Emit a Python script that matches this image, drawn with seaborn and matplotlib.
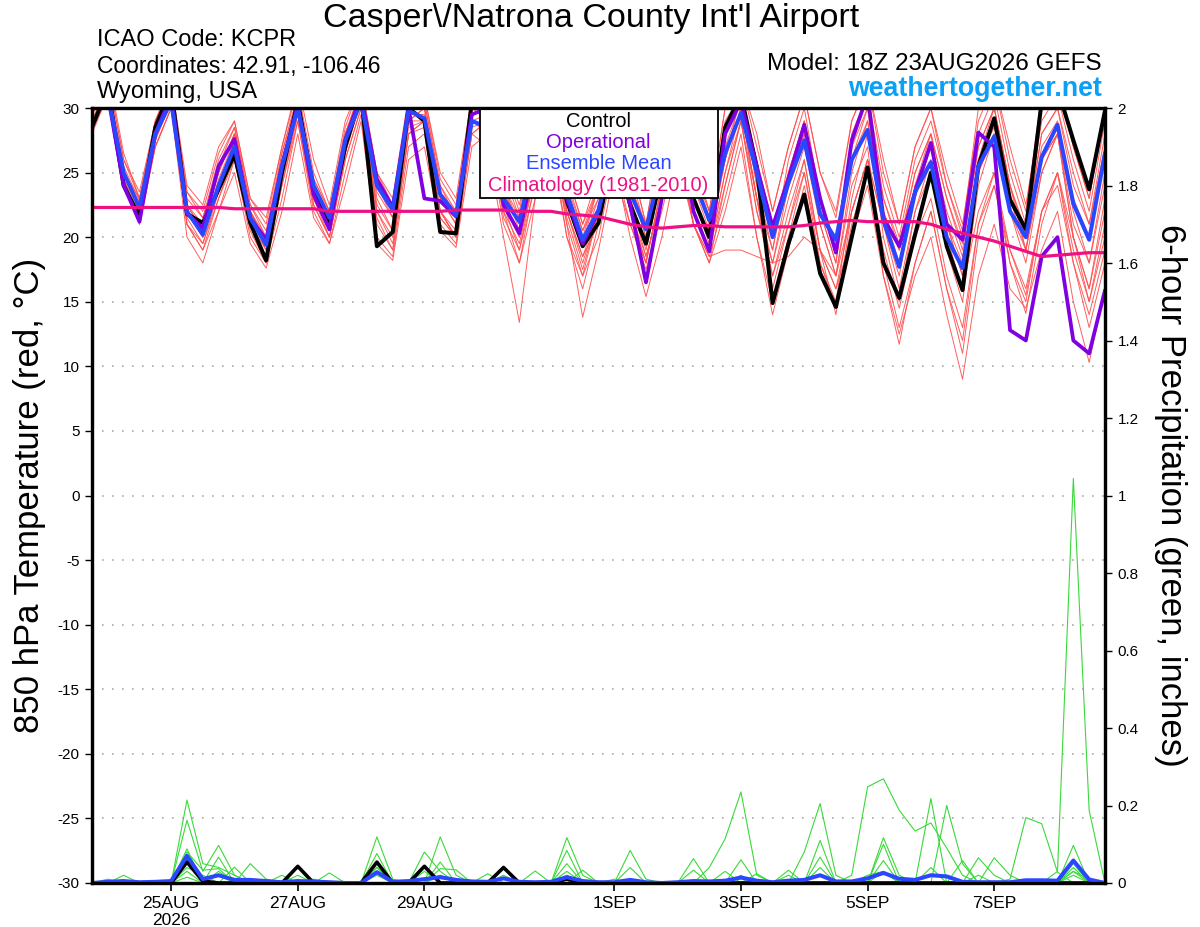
import numpy as np
import pandas as pd
import matplotlib
matplotlib.use('Agg')
import matplotlib.pyplot as plt
import seaborn as sns
from matplotlib.patches import Rectangle

# GEFS run 18Z 23AUG2026, 6-hourly out to 384h
times = pd.date_range('2026-08-23 18:00', periods=65, freq='6h')

tick_dates = pd.to_datetime(['2026-08-25', '2026-08-27', '2026-08-29', '2026-09-01',
                             '2026-09-03', '2026-09-05', '2026-09-07'])
tick_labels = ['25AUG\n2026', '27AUG', '29AUG', '1SEP', '3SEP', '5SEP', '7SEP']

# 850 hPa temperature (C)
control_t = [28.5, 31.5, 24.0, 21.6, 28.5, 31.5, 21.8, 21.1, 23.7, 26.4, 21.1, 18.2, 25.0, 30.5, 23.6, 21.1,
             27.0, 31.0, 19.3, 20.4, 30.0, 29.0, 20.4, 20.3, 30.5, 31.5, 25.0, 24.5, 28.0, 30.5, 22.8, 19.3,
             21.1, 27.0, 22.5, 19.5, 25.0, 29.0, 23.0, 20.0, 28.5, 31.0, 25.4, 14.9, 19.5, 23.3, 17.2, 14.6,
             20.0, 25.4, 18.0, 15.3, 20.2, 25.0, 19.3, 15.9, 25.5, 29.2, 22.9, 20.6, 30.5, 31.5, 27.5, 23.7, 29.8]
mean_t = [30.0, 31.0, 25.0, 22.3, 28.0, 30.5, 22.0, 20.2, 24.0, 27.0, 21.5, 19.4, 25.5, 30.0, 24.0, 21.5,
          27.5, 30.5, 24.0, 22.1, 29.8, 29.2, 23.3, 21.7, 29.0, 28.5, 23.0, 21.2, 26.5, 29.0, 23.4, 19.8,
          22.1, 27.0, 23.5, 20.6, 25.5, 29.0, 24.5, 21.3, 26.5, 29.6, 25.0, 20.0, 24.2, 27.5, 21.8, 19.8,
          26.0, 28.3, 21.3, 17.7, 23.5, 25.8, 20.0, 17.6, 25.5, 27.8, 22.0, 20.0, 26.2, 28.7, 22.6, 19.8, 26.5]
oper_t = [30.0, 31.0, 24.0, 21.2, 28.0, 31.0, 21.8, 20.7, 25.5, 27.6, 21.5, 19.8, 25.5, 30.2, 23.3, 20.6,
          27.5, 31.0, 24.5, 22.3, 30.0, 23.0, 22.8, 21.6, 29.5, 30.0, 22.5, 20.3, 26.0, 29.0, 23.0, 19.5,
          22.0, 27.5, 22.5, 16.5, 23.0, 29.5, 22.0, 18.9, 28.0, 30.5, 25.4, 20.8, 24.5, 28.7, 23.0, 18.8,
          27.5, 31.0, 21.5, 19.3, 23.5, 27.3, 21.0, 19.8, 28.1, 27.0, 12.8, 12.0, 18.5, 20.0, 12.0, 11.0, 15.9]
clim_t = [22.3, 22.3, 22.3, 22.3, 22.3, 22.3, 22.3, 22.3, 22.3, 22.2, 22.2, 22.2, 22.2, 22.2, 22.2, 22.0,
          22.0, 22.0, 22.0, 22.0, 22.0, 22.0, 22.0, 22.1, 22.1, 22.1, 22.1, 22.0, 22.0, 22.0, 21.8, 21.7,
          21.6, 21.3, 21.0, 20.8, 20.7, 20.8, 20.9, 20.9, 20.8, 20.8, 20.8, 20.8, 20.8, 20.9, 21.1, 21.2,
          21.3, 21.2, 21.2, 21.2, 21.2, 21.0, 20.6, 20.3, 20.0, 19.7, 19.3, 18.9, 18.5, 18.6, 18.7, 18.8, 18.8]

# ensemble members (red)
t_m01 = [29.5, 32, 25.5, 22.8, 28.5, 31, 23, 21.5, 25, 28, 22, 20, 26, 31, 24.5, 22,
         28, 31.5, 24, 22.5, 30, 30, 23.5, 22, 30, 29, 24, 21.5, 27, 30, 24, 20.5,
         23, 28, 24, 21, 26, 30, 25, 22, 27, 30.5, 26, 21, 25, 28, 22, 20,
         26, 29, 22, 18, 24, 26, 21, 18, 26, 28.5, 23, 20, 27, 29, 23, 20, 27]
t_m02 = [28, 31, 24, 21, 27, 30, 21, 19, 23, 26, 20.5, 18, 24, 29.5, 22.5, 20,
         26, 30, 21, 19, 28, 29, 21.5, 20, 29, 28, 22, 19.5, 25, 29, 22, 18.5,
         21, 27, 22, 18.5, 23, 28, 22, 19, 24, 29, 23, 17, 21, 25, 19, 16,
         22, 26, 19, 14.5, 20, 23, 17, 13, 21, 25, 19, 15.5, 22, 24, 18, 14, 19]
t_m03 = [30, 32.5, 26, 23.5, 29, 32, 24, 22.5, 27, 29, 23, 21.5, 27, 32, 26, 22.5,
         29, 32, 25, 23, 31, 31, 25, 23, 31, 32, 26, 22.5, 28, 31, 25, 21,
         24, 30, 26, 21, 28, 31, 26, 22, 30, 32, 27, 22, 27, 31, 25, 22,
         29, 32, 25, 21, 27, 30, 25, 21, 29, 32, 27, 22.5, 30, 32, 27, 23, 30]
t_m04 = [29, 31.5, 25, 22, 28, 31, 22, 20, 24, 27.5, 21, 19, 25, 30, 23, 20.5,
         27, 31, 22, 20, 29, 30, 22, 20.5, 28, 27, 20, 13.4, 23, 28, 21, 17,
         22, 28, 23, 19, 25, 29, 23, 20, 26, 30, 23, 18, 24, 28, 21, 17,
         25, 29, 22, 19, 23, 27, 21, 17, 25, 28, 22, 19, 26, 28, 21, 18, 25]
t_m05 = [29, 32, 24.5, 21.5, 27.5, 30.5, 22, 20.5, 24, 27, 22, 19.5, 25.5, 30.5, 23.5, 21,
         27.5, 31, 23.5, 21.5, 29.5, 29.5, 23, 21, 29.5, 30, 23, 20, 25, 29, 21, 13.8,
         19, 25, 21, 18, 24, 29, 24, 20.5, 26, 31, 24, 19, 26, 30, 23, 19,
         27, 31, 23, 19, 25, 28, 23, 19.5, 27, 30, 24, 20, 28, 30, 25, 21, 28]
t_m06 = [30, 32, 25, 22.5, 28, 31.5, 21, 19, 22, 26, 20, 18, 23, 29, 22, 19.5,
         25, 29.5, 20, 18.5, 27, 28, 21, 19.5, 28, 29, 21.5, 19, 24, 28, 20, 17,
         20, 26, 20, 15.4, 20, 26, 21, 18.5, 23, 28, 20, 14, 19, 24, 18, 14.5,
         21, 25, 18, 13, 18, 22, 16, 11, 20, 24, 18, 15, 22, 25, 19, 15, 21]
t_m07 = [29, 31, 24, 21.5, 28, 30.5, 22.5, 20.5, 25, 28, 22, 19.5, 26, 30.5, 23, 21,
         28, 31, 23, 20.5, 29, 29, 22, 20, 30, 30.5, 24, 21, 26, 29, 23, 20,
         24, 29, 24, 20, 25, 28, 21, 18.5, 19, 19, 18.5, 18, 18.5, 20, 19, 17,
         22, 26, 21, 18, 24, 27, 22, 18.5, 25, 28, 23, 19, 26, 28, 22, 18, 24]
t_m08 = [29.5, 32, 25, 22, 27, 30, 20, 18, 22, 25, 19.5, 17.6, 22, 28, 21.5, 19.5,
         24, 29, 19.5, 18.2, 26, 27, 20.5, 19.2, 27, 28, 21, 18, 23, 27, 20, 16,
         21, 26, 21, 17.5, 22, 27, 21, 18, 24, 29, 22, 17, 22, 26, 19, 16,
         20, 24, 17, 12.5, 17, 20, 14, 9.0, 17, 21, 16, 14.5, 19, 22, 15, 10.3, 16]
t_m09 = [30, 33, 26.5, 23, 29, 32, 23.5, 22, 26.5, 29, 23, 21, 27, 31.5, 25, 22,
         28.5, 32, 25, 22.5, 30.5, 31, 24.5, 22.5, 31, 31.5, 25.5, 22, 28.5, 31.5, 25, 21,
         25, 31, 26, 21, 28, 32, 26, 22, 30, 32, 28, 22, 27, 31, 25, 21.5,
         29, 32, 26, 21, 27, 30, 24, 20.5, 30, 32, 26, 22, 31, 32, 27, 23, 30]
t_m10 = [29, 31.5, 24.5, 22, 28, 31, 22.5, 20.5, 25.5, 28.5, 22.5, 20, 26.5, 31, 24, 21.5,
         28, 31, 24.5, 22, 30, 30.5, 24, 21.5, 29.5, 30, 23.5, 21, 27, 30, 23, 19.5,
         23, 29, 24, 20, 26, 30, 25, 21, 28, 31, 24, 20, 25, 29, 23, 19,
         27, 30, 23, 19.5, 25, 28, 23, 19, 27, 30, 24, 20.5, 28, 30, 24, 21, 27]
t_m11 = [29.5, 32, 25, 22.5, 28.5, 31.5, 22, 20, 24.5, 27.5, 21.5, 19, 25, 30, 23, 20.5,
         27, 30.5, 22.5, 20.5, 28.5, 29, 22, 20, 29, 29.5, 22.5, 20, 26, 29, 22, 18.5,
         22, 27, 22, 18, 24, 28, 22, 19, 25, 29, 22, 18, 23, 27, 21, 17,
         24, 27, 17, 11.7, 18, 22, 16, 12, 21, 24, 19, 16, 22, 25, 18, 13, 18]
t_m12 = [30, 32, 25, 23, 28, 31, 22.5, 21, 25, 28, 22, 19.5, 25.5, 30, 23.5, 21,
         27, 31, 24, 21.5, 29, 30, 23, 21, 30, 31, 24, 20.5, 27, 30, 23, 19.5,
         24, 29, 23, 19.5, 25, 29, 23, 19.5, 26, 30, 23, 16, 21, 26, 19, 14,
         22, 26, 21, 16, 22, 26, 20, 16, 22, 25, 18, 14.1, 21, 25, 20, 16, 22]
t_m13 = [29, 31, 24, 21, 27, 30, 21.5, 19.5, 23.5, 27, 21, 18.5, 24, 29, 22.5, 20,
         26.5, 30.5, 22, 19.5, 28, 28.5, 21.5, 20, 28.5, 29, 22, 18, 24.5, 28.5, 21.5, 17.5,
         22, 28, 23, 18.5, 23, 27, 21, 18, 22, 27, 20, 15, 20, 25, 18, 15,
         23, 28, 21, 17, 24, 28, 21, 17, 26, 30, 24, 19, 25, 28, 20, 16, 23]
t_m14 = [30.5, 32.5, 26, 23, 29, 31.5, 23.5, 21.5, 26, 28.5, 22.5, 20.5, 26.5, 31, 24.5, 22,
         28, 31.5, 24, 22, 30, 30.5, 24, 22, 30.5, 31, 25, 21.5, 27.5, 31, 24.5, 20.5,
         24, 30, 25, 20.5, 27, 31, 25, 21.5, 29, 31, 25, 20, 24, 29, 22, 18,
         28, 31, 24, 20, 26, 29, 24, 20, 28, 31, 25, 21, 29, 31, 26, 22, 29]
t_m15 = [29, 31.5, 24, 21.5, 27.5, 30.5, 21, 19.5, 23, 26.5, 21, 18.5, 24.5, 29.5, 23, 20,
         26, 30, 21.5, 19, 28, 29, 22, 20, 28, 29, 22.5, 19, 25, 29, 22, 18,
         22, 28, 22, 18, 24, 28, 22, 19, 25, 30, 23, 19, 25, 29, 22, 18,
         26, 30, 20, 15, 22, 25, 19, 15, 24, 28, 22, 18, 25, 28, 20, 15, 20]

# 6-hour precipitation (inches)
control_p = [0, 0, 0, 0, 0, 0, 0.054, 0.005, 0, 0, 0, 0, 0, 0.043, 0, 0,
             0, 0, 0.054, 0, 0, 0.043, 0, 0, 0, 0, 0.04, 0, 0, 0, 0.01, 0,
             0, 0, 0, 0, 0, 0, 0, 0, 0, 0, 0, 0, 0, 0, 0, 0,
             0, 0, 0, 0, 0, 0, 0, 0, 0, 0, 0, 0, 0, 0, 0, 0, 0]
mean_p = [0, 0.003, 0.005, 0.002, 0.003, 0.005, 0.07, 0.01, 0.02, 0.008, 0.008, 0.005, 0.002, 0.005, 0.004, 0.002,
          0, 0, 0.028, 0.003, 0.005, 0.01, 0.015, 0.008, 0.004, 0.003, 0.012, 0.003, 0.002, 0.003, 0.015, 0.005,
          0.002, 0.002, 0.008, 0.002, 0, 0.002, 0.005, 0.004, 0.006, 0.014, 0.006, 0.002, 0.006, 0.008, 0.02, 0.004,
          0.004, 0.012, 0.026, 0.011, 0.008, 0.02, 0.017, 0.003, 0.002, 0.002, 0.002, 0.007, 0.007, 0.006, 0.058, 0.009, 0]

p_m01 = [0, 0, 0.02, 0, 0, 0, 0.214, 0.05, 0.04, 0.02, 0, 0, 0, 0, 0, 0,
         0, 0, 0.04, 0, 0, 0, 0.119, 0.02, 0, 0, 0, 0, 0, 0, 0.117, 0.02,
         0, 0, 0, 0, 0, 0, 0, 0.04, 0.114, 0.235, 0.02, 0, 0, 0, 0, 0,
         0, 0, 0.058, 0, 0, 0, 0, 0, 0, 0, 0, 0, 0, 0, 0.03, 0, 0]
p_m02 = [0, 0, 0, 0, 0, 0, 0.162, 0.03, 0.097, 0.02, 0, 0, 0, 0.02, 0, 0,
         0, 0, 0.119, 0.01, 0, 0.08, 0.03, 0, 0, 0, 0, 0, 0, 0, 0.084, 0,
         0, 0, 0.084, 0.01, 0, 0, 0, 0, 0, 0, 0, 0, 0, 0.08, 0.205, 0.02,
         0, 0, 0, 0, 0, 0.218, 0, 0, 0, 0, 0, 0, 0, 0, 0.097, 0, 0]
p_m03 = [0, 0, 0, 0, 0, 0, 0.088, 0, 0.067, 0, 0.05, 0.01, 0, 0, 0, 0,
         0, 0, 0.076, 0, 0, 0, 0.054, 0, 0, 0, 0.043, 0, 0, 0, 0.05, 0,
         0, 0, 0, 0, 0, 0, 0.063, 0, 0, 0, 0, 0, 0, 0, 0, 0,
         0.02, 0.248, 0.269, 0.188, 0.134, 0.155, 0.09, 0.02, 0, 0, 0, 0, 0, 0, 0, 0, 0]
p_m04 = [0, 0, 0, 0, 0, 0, 0.08, 0.033, 0.037, 0, 0, 0, 0.02, 0, 0, 0.026,
         0, 0, 0.041, 0, 0, 0, 0.037, 0.034, 0, 0, 0, 0, 0.031, 0, 0, 0,
         0, 0, 0, 0, 0, 0, 0, 0, 0, 0.06, 0, 0, 0, 0, 0.11, 0,
         0, 0, 0, 0, 0, 0, 0.2, 0.05, 0, 0, 0, 0, 0, 0, 0.05, 0, 0]
p_m05 = [0, 0, 0, 0, 0, 0, 0.054, 0, 0, 0.041, 0, 0, 0, 0, 0.01, 0,
         0, 0, 0, 0, 0, 0.03, 0, 0, 0, 0.024, 0, 0, 0, 0, 0, 0.033,
         0, 0, 0.04, 0, 0, 0, 0.033, 0, 0, 0, 0, 0, 0.033, 0, 0, 0,
         0, 0, 0.117, 0.02, 0, 0, 0, 0, 0.065, 0.02, 0, 0, 0, 0, 0.04, 0, 0]
p_m06 = [0, 0, 0, 0, 0, 0, 0.015, 0, 0.02, 0, 0, 0, 0, 0, 0, 0,
         0, 0, 0.02, 0, 0, 0, 0, 0, 0, 0, 0.02, 0, 0, 0, 0.02, 0,
         0, 0, 0, 0, 0, 0, 0, 0, 0, 0, 0.024, 0, 0, 0, 0.067, 0,
         0, 0, 0.1, 0, 0, 0, 0, 0.058, 0, 0.065, 0.02, 0, 0, 0, 0.03, 0.01, 0]
p_m07 = [0, 0, 0, 0, 0, 0, 0.03, 0, 0, 0, 0, 0, 0, 0, 0, 0,
         0, 0, 0, 0, 0, 0, 0.02, 0, 0, 0, 0, 0, 0, 0, 0, 0,
         0, 0.01, 0, 0, 0, 0, 0, 0, 0, 0.02, 0, 0, 0, 0, 0, 0,
         0, 0, 0, 0, 0, 0.04, 0, 0, 0, 0, 0.01, 0.169, 0.153, 0.028, 0, 0, 0]
p_m08 = [0, 0, 0, 0, 0, 0, 0.06, 0, 0.03, 0, 0, 0, 0, 0, 0, 0,
         0, 0, 0.03, 0, 0, 0, 0, 0, 0, 0, 0, 0, 0, 0, 0.03, 0,
         0, 0, 0, 0, 0, 0, 0, 0, 0, 0, 0, 0, 0, 0, 0, 0,
         0, 0.02, 0.03, 0, 0, 0, 0, 0, 0, 0, 0, 0, 0, 0.03, 1.044, 0.187, 0]
p_m09 = [0, 0.01, 0, 0, 0, 0, 0.04, 0.02, 0, 0, 0, 0, 0, 0, 0, 0,
         0, 0, 0, 0, 0, 0, 0.02, 0, 0, 0, 0.015, 0, 0, 0, 0, 0,
         0, 0, 0, 0, 0, 0, 0, 0, 0.03, 0, 0, 0, 0.02, 0, 0.04, 0,
         0, 0, 0.03, 0, 0, 0, 0, 0, 0.02, 0, 0, 0, 0, 0, 0.02, 0, 0]

member_temps = [t_m01, t_m02, t_m03, t_m04, t_m05, t_m06, t_m07, t_m08,
                t_m09, t_m10, t_m11, t_m12, t_m13, t_m14, t_m15]
member_precs = [p_m01, p_m02, p_m03, p_m04, p_m05, p_m06, p_m07, p_m08, p_m09]

legend_labels = ['Control', 'Operational', 'Ensemble Mean', 'Climatology (1981-2010)']

temp_long = pd.DataFrame({
    'time': np.tile(times, len(member_temps)),
    'member': np.repeat(np.arange(len(member_temps)), len(times)),
    'temp': np.concatenate(member_temps),
})
prec_long = pd.DataFrame({
    'time': np.tile(times, len(member_precs)),
    'member': np.repeat(np.arange(len(member_precs)), len(times)),
    'precip': np.concatenate(member_precs),
})

RED = '#ff4d4d'
GREEN = '#3ad93a'
PURPLE = '#8000e0'
BLUE = '#2b46ff'
PINK = '#ee1185'

sns.set_style('ticks')
plt.rcParams['font.family'] = ['Liberation Sans', 'DejaVu Sans']
plt.rcParams.update({'text.color': 'black', 'axes.labelcolor': 'black',
                     'xtick.color': 'black', 'ytick.color': 'black',
                     'axes.unicode_minus': False})

fig = plt.figure(figsize=(12, 9.27), dpi=100)
ax = fig.add_axes([92 / 1200, 1 - 883 / 927, 1013 / 1200, 775 / 927])

ax.grid(axis='y', linestyle=(0, (1, 5)), color='#aaaaaa', linewidth=1.2)
ax.set_axisbelow(True)

sns.lineplot(data=temp_long, x='time', y='temp', units='member', estimator=None,
             color=RED, linewidth=0.7, alpha=0.9, legend=False, ax=ax)
sns.lineplot(x=times, y=control_t, color='black', linewidth=2.9, ax=ax)
sns.lineplot(x=times, y=oper_t, color=PURPLE, linewidth=2.7, ax=ax)
sns.lineplot(x=times, y=mean_t, color=BLUE, linewidth=2.9, ax=ax)
sns.lineplot(x=times, y=clim_t, color=PINK, linewidth=2.3, ax=ax)

ax.set_ylim(-30, 30)
ax.set_yticks(np.arange(-30, 31, 5))
ax.set_xlim(times[0], times[-1])
ax.set_xticks(tick_dates)
ax.set_xticklabels(tick_labels)
ax.set_xlabel('')
ax.set_ylabel('')
ax.tick_params(axis='y', direction='out', length=5, width=1, labelsize=11, pad=4)
ax.tick_params(axis='x', direction='out', length=6, width=1.2, labelsize=12.5, pad=3)
for s in ax.spines.values():
    s.set_linewidth(2.3)
    s.set_color('black')

# key box, centred at the top of the plot
box = Rectangle((0.383, 0.884), 0.235, 0.116, transform=ax.transAxes,
                facecolor='white', edgecolor='black', linewidth=1.3, zorder=10)
ax.add_patch(box)
for k, (lab, col) in enumerate(zip(legend_labels, ['black', PURPLE, BLUE, PINK])):
    ax.text(0.5, 0.983 - k * 0.0275, lab, color=col, fontsize=14.5,
            ha='center', va='center', transform=ax.transAxes, zorder=11)

ax2 = ax.twinx()
sns.lineplot(data=prec_long, x='time', y='precip', units='member', estimator=None,
             color=GREEN, linewidth=0.8, legend=False, ax=ax2)
sns.lineplot(x=times, y=control_p, color='black', linewidth=2.6, ax=ax2)
sns.lineplot(x=times, y=mean_p, color=BLUE, linewidth=2.9, ax=ax2)
ax2.set_ylim(0, 2)
ax2.set_yticks(np.arange(0, 2.01, 0.2))
ax2.set_yticklabels(['0', '0.2', '0.4', '0.6', '0.8', '1', '1.2', '1.4', '1.6', '1.8', '2'])
ax2.set_ylabel('')
ax2.tick_params(axis='y', direction='out', length=5, width=1, labelsize=11, pad=4)
for s in ax2.spines.values():
    s.set_linewidth(2.3)
    s.set_color('black')

fig.text(30 / 1200, 1 - 495 / 927, '850 hPa Temperature (red, °C)', rotation=90,
         ha='center', va='center', fontsize=25)
fig.text(1170 / 1200, 1 - 495 / 927, '6-hour Precipitation (green, inches)', rotation=270,
         ha='center', va='center', fontsize=25)

fig.text(591 / 1200, 1 - 19 / 927, "Casper\\/Natrona County Int'l Airport",
         ha='center', va='center', fontsize=24.5)
fig.text(97 / 1200, 1 - 40 / 927, 'ICAO Code: KCPR', ha='left', va='center', fontsize=17)
fig.text(97 / 1200, 1 - 66 / 927, 'Coordinates: 42.91, -106.46', ha='left', va='center', fontsize=16.5)
fig.text(97 / 1200, 1 - 92 / 927, 'Wyoming, USA', ha='left', va='center', fontsize=17)
fig.text(1102 / 1200, 1 - 64 / 927, 'Model: 18Z 23AUG2026 GEFS', ha='right', va='center', fontsize=17.5)
fig.text(1102 / 1200, 1 - 89 / 927, 'weathertogether.net', ha='right', va='center',
         fontsize=19.3, fontweight='bold', color='#0aa0f5')

fig.savefig('out.png', dpi=100)
